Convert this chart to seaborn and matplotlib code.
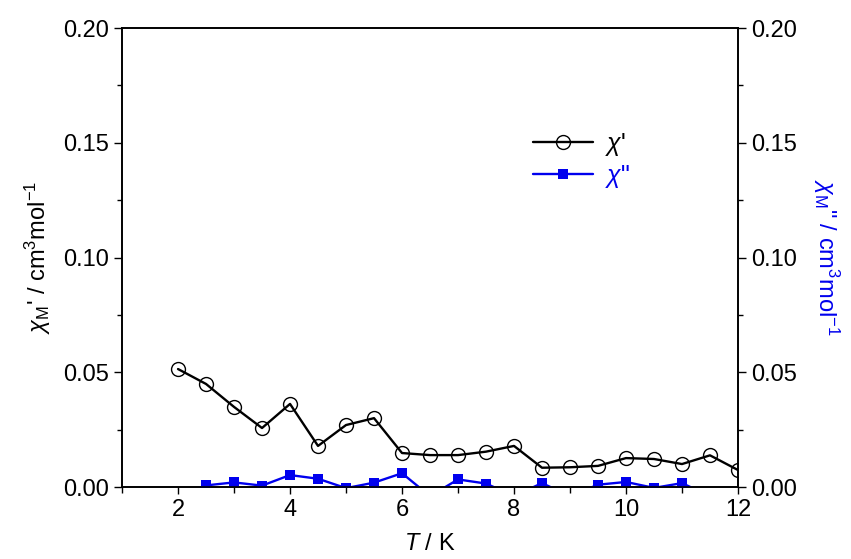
import numpy as np
import pandas as pd
import matplotlib
matplotlib.use("Agg")
import matplotlib.pyplot as plt
import seaborn as sns
from matplotlib.ticker import MultipleLocator, FormatStrFormatter

sns.set_theme(style="ticks")
plt.rcParams['font.family'] = ['Liberation Sans', 'DejaVu Sans']
plt.rcParams['mathtext.fontset'] = 'custom'
plt.rcParams['mathtext.rm'] = 'Liberation Sans'
plt.rcParams['mathtext.it'] = 'Liberation Sans:italic'
plt.rcParams['mathtext.bf'] = 'Liberation Sans:bold'
plt.rcParams['text.color'] = 'black'
plt.rcParams['axes.labelcolor'] = 'black'
plt.rcParams['xtick.color'] = 'black'
plt.rcParams['ytick.color'] = 'black'

T = [2, 2.5, 3, 3.5, 4, 4.5, 5, 5.5, 6, 6.5, 7, 7.5, 8, 8.5, 9, 9.5, 10, 10.5, 11, 11.5, 12]
chi_p = [0.0514, 0.0449, 0.0349, 0.0257, 0.0362, 0.0179, 0.0270, 0.0300, 0.0148, 0.0139,
         0.0139, 0.0154, 0.0179, 0.0084, 0.0086, 0.0092, 0.0126, 0.0122, 0.0100, 0.0138, 0.0074]
chi_pp = [-0.004, 0.0007, 0.0020, 0.0006, 0.0052, 0.0036, -0.0005, 0.0019, 0.0060, -0.004,
          0.0033, 0.0015, -0.004, 0.0017, -0.004, 0.0010, 0.0022, -0.0004, 0.0017, -0.004, -0.004]

df = pd.DataFrame({"T": T, "chi1": chi_p, "chi2": chi_pp})

fig = plt.figure(figsize=(8.51, 5.59), dpi=100)
ax = fig.add_axes([0.1434, 0.1288, 0.7238, 0.8211])
ax2 = ax.twinx()

sns.lineplot(data=df, x="T", y="chi1", ax=ax, color="black", lw=1.7, marker="o",
             markersize=10, markerfacecolor="none", markeredgecolor="black",
             markeredgewidth=1.0, label=r"$\chi$'", legend=False)
sns.lineplot(data=df, x="T", y="chi2", ax=ax2, color="#0000ee", lw=1.7, marker="s",
             markersize=6.5, markeredgecolor="#0000ee", markeredgewidth=0,
             label=r'$\chi$"', legend=False)

for a in (ax, ax2):
    a.set_ylim(0, 0.20)
    a.yaxis.set_major_locator(MultipleLocator(0.05))
    a.yaxis.set_minor_locator(MultipleLocator(0.025))
    a.yaxis.set_major_formatter(FormatStrFormatter('%.2f'))
    a.tick_params(axis='y', which='major', length=6, width=1, labelsize=17, direction='out')
    a.tick_params(axis='y', which='minor', length=3.5, width=1, direction='out')
    for s in a.spines.values():
        s.set_linewidth(1.2)
        s.set_color('black')
ax.set_xlim(1, 12)
ax.xaxis.set_major_locator(MultipleLocator(2))
ax.xaxis.set_minor_locator(MultipleLocator(1))
ax.tick_params(axis='x', which='major', length=5, width=1, labelsize=17, direction='out')
ax.tick_params(axis='x', which='minor', length=4, width=1, direction='out')

ax.set_xlabel(r"$T$ / K", fontsize=17, labelpad=9)
ax.set_ylabel(r"$\chi_{\rm M}$' / cm$^3$mol$^{-1}$", fontsize=17, labelpad=7)
ax2.set_ylabel(r'$\chi_{\rm M}$" / cm$^3$mol$^{-1}$', fontsize=17, color="#0000ee",
               rotation=270, labelpad=32)

h1, l1 = ax.get_legend_handles_labels()
h2, l2 = ax2.get_legend_handles_labels()
leg = ax2.legend(h1 + h2, l1 + l2, loc='upper left', bbox_to_anchor=(0.63, 0.825),
                 frameon=False, fontsize=18, handlelength=2.4, handletextpad=0.5,
                 labelcolor='linecolor', labelspacing=0.2)

fig.savefig("out.png", dpi=100)
